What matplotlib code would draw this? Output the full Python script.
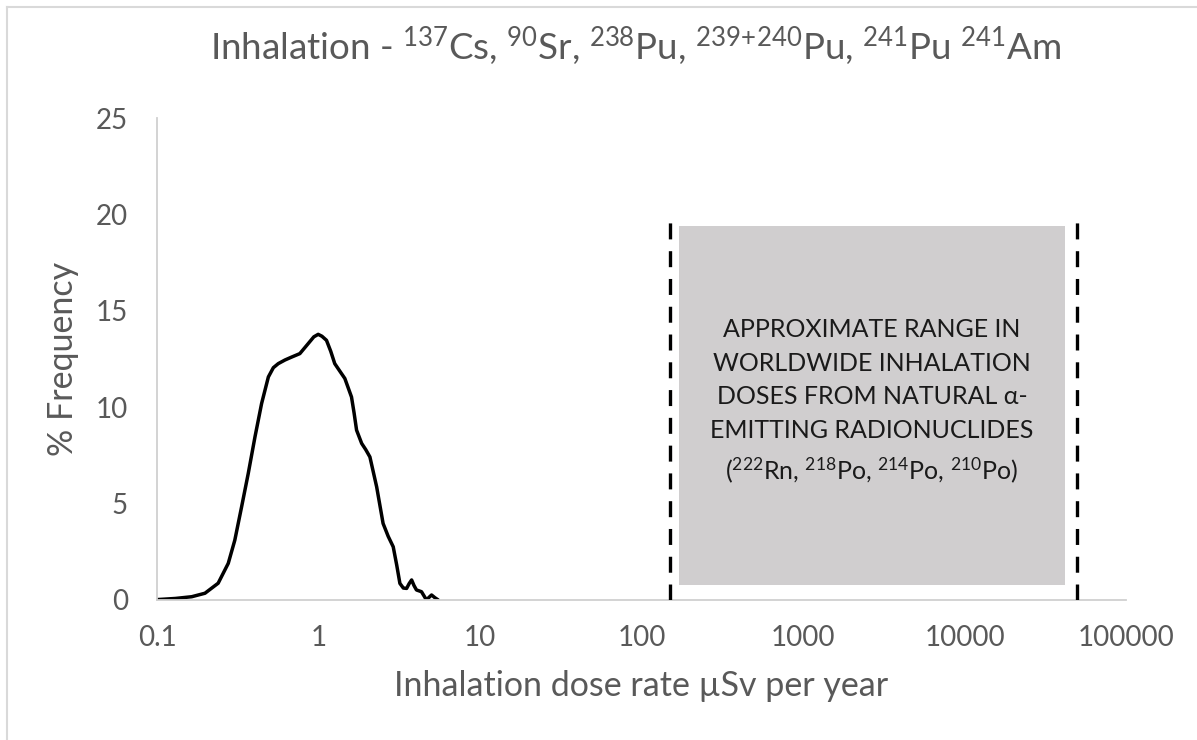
import matplotlib
matplotlib.use("Agg")
import matplotlib.pyplot as plt
from matplotlib.lines import Line2D
from matplotlib.patches import Rectangle

# dose distribution (uSv / year, % frequency)
dose = [0.1, 0.13, 0.164, 0.198, 0.239, 0.276, 0.303, 0.334, 0.367, 0.404,
        0.444, 0.489, 0.525, 0.563, 0.62, 0.681, 0.766, 0.863, 0.935, 0.995,
        1.05, 1.12, 1.19, 1.26, 1.36, 1.455, 1.60, 1.66, 1.72, 1.85,
        1.96, 2.08, 2.29, 2.51, 2.70, 2.90, 3.05, 3.19, 3.35, 3.51,
        3.64, 3.77, 3.90, 4.04, 4.34, 4.66, 4.85, 5.01, 5.25, 5.51]
freq = [0.02, 0.08, 0.17, 0.35, 0.87, 1.9, 3.1, 4.84, 6.56, 8.46,
        10.19, 11.57, 12.05, 12.26, 12.45, 12.6, 12.78, 13.3, 13.65, 13.78,
        13.68, 13.47, 12.9, 12.26, 11.85, 11.49, 10.53, 9.7, 8.81, 8.12,
        7.8, 7.42, 5.87, 3.97, 3.3, 2.76, 1.8, 0.86, 0.62, 0.6,
        0.85, 1.04, 0.75, 0.52, 0.43, 0.0, 0.15, 0.26, 0.12, 0.0]

# natural alpha-emitter range
range_lo, range_hi = 150, 50000
box_lo, box_hi = 170, 42000
box_bottom, box_top = 0.8, 19.4
line_top = 20

xticks = [0.1, 1, 10, 100, 1000, 10000, 100000]
xtick_labels = ["0.1", "1", "10", "100", "1000", "10000", "100000"]
yticks = [0, 5, 10, 15, 20, 25]

TXT = "#595959"
FONT = "Lato"

plt.rcParams["font.family"] = [FONT, "DejaVu Sans"]
plt.rcParams["mathtext.fontset"] = "custom"
plt.rcParams["mathtext.rm"] = FONT
plt.rcParams["mathtext.it"] = FONT + ":italic"
plt.rcParams["mathtext.bf"] = FONT + ":bold"
plt.rcParams["lines.scale_dashes"] = False

fig = plt.figure(figsize=(11.97, 7.40), dpi=100)
ax = fig.add_axes([0.1312, 0.1892, 0.8095, 0.6513])

ax.plot(dose, freq, color="black", lw=2.5, solid_joinstyle="round",
        solid_capstyle="round")

ax.add_patch(Rectangle((box_lo, box_bottom), box_hi - box_lo, box_top - box_bottom,
                       facecolor="#D0CECF", edgecolor="none", zorder=1))
for xv in (range_lo, range_hi):
    ax.plot([xv, xv], [0, line_top], color="black", lw=2.4,
            dashes=(11.5, 8.5), zorder=3)

box_text = ("APPROXIMATE RANGE IN\nWORLDWIDE INHALATION\nDOSES FROM NATURAL \u03b1-\n"
            "EMITTING RADIONUCLIDES\n"
            r"($^{222}$Rn, $^{218}$Po, $^{214}$Po, $^{210}$Po)")
ax.text((box_lo * box_hi) ** 0.5, 10.3, box_text, ha="center", va="center",
        fontsize=18, color="#1a1a1a", linespacing=1.55, zorder=4)

ax.set_xscale("log")
ax.set_xlim(0.1, 100000)
ax.set_ylim(0, 25)
ax.set_xticks(xticks)
ax.set_xticklabels(xtick_labels)
ax.minorticks_off()
ax.set_yticks(yticks)
ax.tick_params(length=0, labelsize=20, colors=TXT)
ax.tick_params(axis="x", pad=18)
ax.tick_params(axis="y", pad=21)

for s in ("top", "right"):
    ax.spines[s].set_visible(False)
for s in ("left", "bottom"):
    ax.spines[s].set_color("#D0D0D0")
    ax.spines[s].set_linewidth(1.3)

ax.set_xlabel("Inhalation dose rate \u00b5Sv per year", fontsize=24.5, color=TXT, labelpad=14)
ax.set_ylabel("% Frequency", fontsize=24.5, color=TXT, labelpad=12)

fig.text(636 / 1197, 1 - 47 / 740,
         r"Inhalation - $^{137}$Cs, $^{90}$Sr, $^{238}$Pu, $^{239\!+\!240}$Pu, $^{241}$Pu $^{241}$Am",
         ha="center", va="center", fontsize=26.5, color=TXT)

# chart frame remnants at top and left edge
fig.add_artist(Line2D([7 / 1197, 1], [1 - 7 / 740, 1 - 7 / 740], color="#D9D9D9", lw=1.5))
fig.add_artist(Line2D([7 / 1197, 7 / 1197], [0, 1 - 7 / 740], color="#D9D9D9", lw=1.5))

fig.savefig("out.png", dpi=100, facecolor="white")
